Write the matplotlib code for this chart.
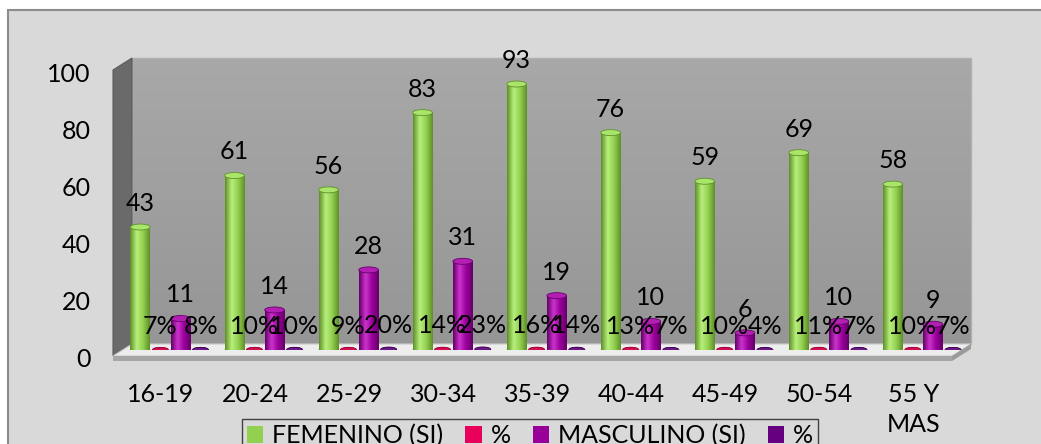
import numpy as np
import matplotlib
matplotlib.use('Agg')
from matplotlib import pyplot as plt
from matplotlib.patches import Rectangle, Polygon, Ellipse, Patch
from matplotlib.colors import LinearSegmentedColormap

# data
categories = ['16-19', '20-24', '25-29', '30-34', '35-39', '40-44', '45-49', '50-54', '55 Y\nMAS']
femenino = [43, 61, 56, 83, 93, 76, 59, 69, 58]
pct_fem = [0.07, 0.10, 0.09, 0.14, 0.16, 0.13, 0.10, 0.11, 0.10]
masculino = [11, 14, 28, 31, 19, 10, 6, 10, 9]
pct_masc = [0.08, 0.10, 0.20, 0.23, 0.14, 0.07, 0.04, 0.07, 0.07]
series_names = ['FEMENINO (SI)', '%', 'MASCULINO (SI)', '%']

W, H = 1041, 444
plt.rcParams['font.family'] = ['Lato', 'DejaVu Sans']
FS = 18

def fx(px):
    return px / W

def fy(py):
    return 1 - py / H

fig = plt.figure(figsize=(W / 100, H / 100), dpi=100, facecolor='white')

# outer chart frame
fig.add_artist(Rectangle((fx(8), -0.2), 1.2, fy(10) + 0.2, transform=fig.transFigure,
                         facecolor='#d9d9d9', edgecolor='#8c8c8c', lw=1.5, zorder=-5))

# 3d box: front plane / back plane in pixels
fl, fr, f0, f100 = 113, 952, 356, 70
DX, DY = 19, 12
bl, br, b0, b100 = fl + DX, fr + DX, f0 - DY, f100 - DY

def fig_poly(pts, **kw):
    p = Polygon([(fx(a), fy(b)) for a, b in pts], closed=True, transform=fig.transFigure, **kw)
    fig.add_artist(p)

# back wall with slight vertical gradient
wall_ax = fig.add_axes([fx(bl), fy(b0), fx(br) - fx(bl), fy(b100) - fy(b0)], zorder=-4)
wall_ax.imshow(np.linspace(0, 1, 50).reshape(-1, 1), cmap=LinearSegmentedColormap.from_list('w', ['#a8a8a8', '#969696']),
               aspect='auto', extent=(0, 1, 0, 1))
wall_ax.set_axis_off()
fig_poly([(bl, b0), (br, b0), (br, b100), (bl, b100)], facecolor='none', edgecolor='#b0b0b0', lw=1, zorder=-3)
# side wall
fig_poly([(fl, f0), (bl, b0), (bl, b100), (fl, f100)], facecolor='#6a6a6a', edgecolor='#5a5a5a', lw=0.8, zorder=-3)
# floor top and slab
fig_poly([(fl, f0), (fr, f0), (br, b0), (bl, b0)], facecolor='#ededed', edgecolor='#c8c8c8', lw=0.8, zorder=-3)
fig_poly([(fl, f0), (fr, f0), (fr, f0 + 5), (fl, f0 + 5)], facecolor='#a6a6a6', edgecolor='none', zorder=-3)
fig_poly([(fr, f0), (br, b0), (br, b0 + 5), (fr, f0 + 5)], facecolor='#9a9a9a', edgecolor='none', zorder=-3)

# axes for tick labels (front plane)
xlim = (-0.51, 8.41)
axf = fig.add_axes([fx(fl), fy(f0 + 1), fx(fr) - fx(fl), fy(f100 + 3) - fy(f0 + 1)], zorder=-1)
axf.set_xlim(xlim)
axf.set_ylim(0, 100)
axf.patch.set_visible(False)
for s in axf.spines.values():
    s.set_visible(False)
axf.set_yticks(range(0, 101, 20))
axf.set_xticks(range(len(categories)))
axf.set_xticklabels(categories, linespacing=1.35)
axf.tick_params(axis='y', length=0, pad=16, labelsize=FS)
axf.tick_params(axis='x', length=0, pad=19, labelsize=FS)

# axes for bars (middle depth)
ml, mr, m0, m100 = fl + DX / 2, fr + DX / 2, f0 - DY / 2, f100 - DY / 2
ax = fig.add_axes([fx(ml), fy(m0), fx(mr) - fx(ml), fy(m100) - fy(m0)], zorder=1)
ax.set_axis_off()
ax.patch.set_visible(False)

px_per_unit = (m0 - m100) / 100.0
cap_h = 6 / px_per_unit

colors = ['#92d050', '#e8005a', '#99009a', '#660080']
shade_dark = ['#5f9128', '#a00040', '#66006a', '#40004f']
shade_light = ['#b8ef7c', '#ff5c97', '#cc33cc', '#9933b0']
cap_col = ['#a9e46b', '#d0104f', '#b31fb3', '#6a1a88']

all_series = [femenino, pct_fem, masculino, pct_masc]
labels_fmt = ['{:d}', '{:.0%}', '{:d}', '{:.0%}']
offsets = [-0.32, -0.107, 0.107, 0.32]
widths = [0.21, 0.17, 0.21, 0.17]
x = np.arange(len(categories))

for k, vals in enumerate(all_series):
    bw = widths[k]
    cmap = LinearSegmentedColormap.from_list('c%d' % k, [shade_dark[k], shade_light[k], colors[k], shade_dark[k]])
    grad = np.linspace(0, 1, 40).reshape(1, -1)
    bars = ax.bar(x + offsets[k], vals, width=bw, color=colors[k], zorder=2, linewidth=0)
    for b, v in zip(bars, vals):
        x0 = b.get_x()
        im = ax.imshow(grad, cmap=cmap, aspect='auto', extent=(x0, x0 + bw, 0, v), zorder=2.1)
        im.set_clip_path(b)
        ax.add_patch(Ellipse((x0 + bw / 2, 0), bw, cap_h, facecolor=shade_dark[k], edgecolor='none', zorder=1.9))
        ax.add_patch(Ellipse((x0 + bw / 2, v), bw, cap_h * (1 if k % 2 == 0 else 0.8), facecolor=cap_col[k],
                             edgecolor=shade_dark[k], lw=0.6, zorder=2.5))
        ax.annotate(labels_fmt[k].format(v), (x0 + bw / 2, v), xytext=(0, 17), textcoords='offset points',
                    ha='center', va='center', fontsize=FS, color='black', zorder=4)

ax.set_xlim(xlim)
ax.set_ylim(0, 100)

handles = [Patch(facecolor=c, edgecolor='none') for c in colors]
fig.legend(handles, series_names, loc='upper center', bbox_to_anchor=(fx(530), fy(419)), ncol=4, fontsize=FS,
           frameon=True, fancybox=False, edgecolor='#404040', facecolor='#d9d9d9', framealpha=1,
           handlelength=0.65, handleheight=0.65, handletextpad=0.35, columnspacing=0.9, borderpad=0.2,
           borderaxespad=0)

fig.savefig('out.png', dpi=100, facecolor=fig.get_facecolor())
